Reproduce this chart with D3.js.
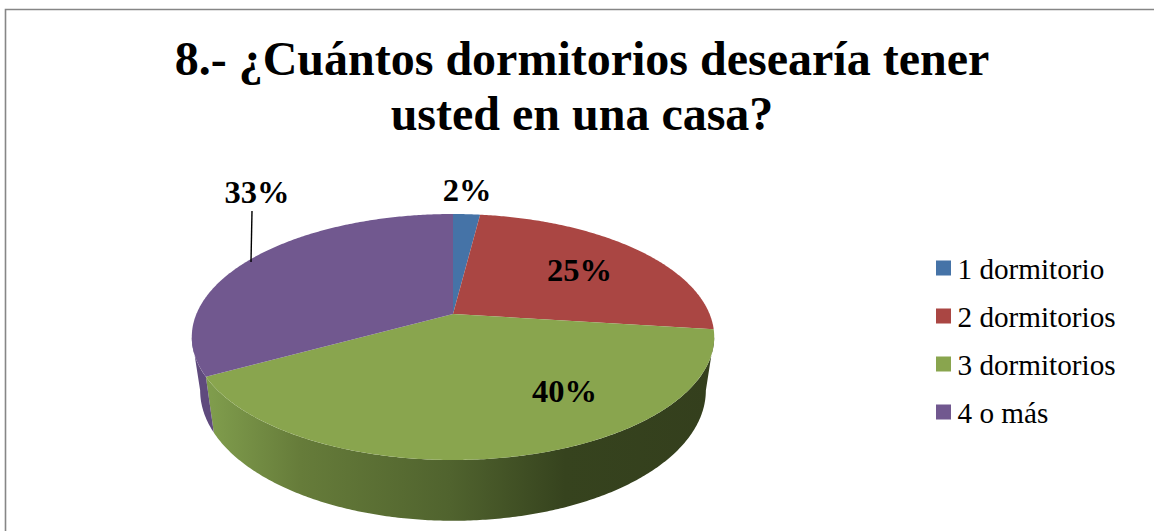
<!DOCTYPE html>
<html lang="es">
<head>
<meta charset="utf-8">
<title>Dormitorios</title>
<script src="https://cdn.jsdelivr.net/npm/d3@7/dist/d3.min.js"></script>
<style>
html,body{margin:0;padding:0;background:#fff;overflow:hidden}
svg{display:block}
text{font-family:"Liberation Serif",serif;fill:#000}
</style>
</head>
<body>
<svg id="chart" width="1154" height="531"></svg>
<script>
const titleLines = ["8.- ¿Cuántos dormitorios desearía tener", "usted en una casa?"];
const categories = ["1 dormitorio", "2 dormitorios", "3 dormitorios", "4 o más"];
const shares = [2, 25, 40, 33];
const colors = ["#4573a7", "#aa4643", "#89a54e", "#71588f"];
const sideColors = ["#3a6190", "#8f3a38", "#6f8a3e", "#5f4a7d"];
const sideStops = [[212, "#7f9c4c"], [300, "#667c3a"], [450, "#50632e"], [565, "#36431e"], [712, "#343f1d"]];
const labelSpots = [[467, 190], [579.5, 270], [564.5, 391], [257, 192]];

const svg = d3.select("#chart");
const TAU = Math.PI * 2;

// Perspective projection of the pie disc: the far edge is foreshortened.
const cx = 453, topY = 314, persp = 0.187, spanX = 256.6, spanY = 118.7;
const project = (angle, scaleX, scaleY, originY) => {
  const s = Math.sin(angle), c = Math.cos(angle), w = 1 + persp * c;
  return [cx + scaleX * spanX * s / w, originY - scaleY * spanY * c / w];
};
const topFace = a => project(a, 1, 1, topY);
const bottomFace = a => project(a, 0.968, 1.06, 366);
const sweep = (a0, a1, step = 0.01) => {
  const n = Math.max(2, Math.ceil(Math.abs(a1 - a0) / step));
  return d3.range(n + 1).map(i => a0 + (a1 - a0) * i / n);
};
const path = d3.line();

const arcs = d3.pie().sort(null).value(d => d)(shares);

// Chart frame
svg.append("path")
  .attr("d", "M5.5,531V9.5H1154")
  .attr("fill", "none").attr("stroke", "#868686").attr("stroke-width", 1.6);

// Side wall gradient for the front of the disc
const sideX = d3.scaleLinear().domain([212, 712]).range([0, 1]);
const gradient = svg.append("defs").append("linearGradient")
  .attr("id", "sideShade")
  .attr("gradientUnits", "userSpaceOnUse")
  .attr("x1", 212).attr("x2", 712).attr("y1", 0).attr("y2", 0);
gradient.selectAll("stop").data(sideStops).join("stop")
  .attr("offset", d => sideX(d[0]))
  .attr("stop-color", d => d[1]);

// Side walls run between the two angles where the disc's outline turns back
const wallStart = Math.acos(-persp);
const wallEnd = TAU - wallStart;
const walls = arcs.filter(d => d.endAngle > wallStart && d.startAngle < wallEnd);
svg.append("g").selectAll("path").data(walls).join("path")
  .attr("d", d => {
    const angles = sweep(Math.max(d.startAngle, wallStart), Math.min(d.endAngle, wallEnd));
    return path(angles.map(topFace).concat(angles.slice().reverse().map(bottomFace))) + "Z";
  })
  .attr("fill", d => d.index === 2 ? "url(#sideShade)" : sideColors[d.index]);

// Top faces
svg.append("g").selectAll("path").data(arcs).join("path")
  .attr("d", d => path([[cx, topY]].concat(sweep(d.startAngle, d.endAngle).map(topFace))) + "Z")
  .attr("fill", d => colors[d.index]);

// Leader line of the outer label
svg.append("line")
  .attr("x1", 252).attr("x2", 251).attr("y1", 211).attr("y2", 262)
  .attr("stroke", "#000").attr("stroke-width", 1.4);

// Value labels
svg.append("g").selectAll("text").data(shares).join("text")
  .attr("x", (d, i) => labelSpots[i][0])
  .attr("y", (d, i) => labelSpots[i][1])
  .attr("dy", "0.35em")
  .attr("text-anchor", "middle")
  .attr("font-size", 32.5).attr("font-weight", "bold")
  .text(d => d + "%");

// Title
svg.append("g").selectAll("text").data(titleLines).join("text")
  .attr("x", 582)
  .attr("y", (d, i) => 75 + i * 55)
  .attr("text-anchor", "middle")
  .attr("font-size", 48).attr("font-weight", "bold")
  .text(d => d);

// Legend
const legendY = d3.scalePoint().domain(categories).range([269, 413]);
const legend = svg.append("g").selectAll("g").data(categories).join("g")
  .attr("transform", d => `translate(936,${legendY(d)})`);
legend.append("rect")
  .attr("width", 15).attr("height", 15).attr("y", -8.5)
  .attr("fill", (d, i) => colors[i]);
legend.append("text")
  .attr("x", 21.5).attr("dy", "0.35em")
  .attr("font-size", 29.2)
  .text(d => d);
</script>
</body>
</html>
